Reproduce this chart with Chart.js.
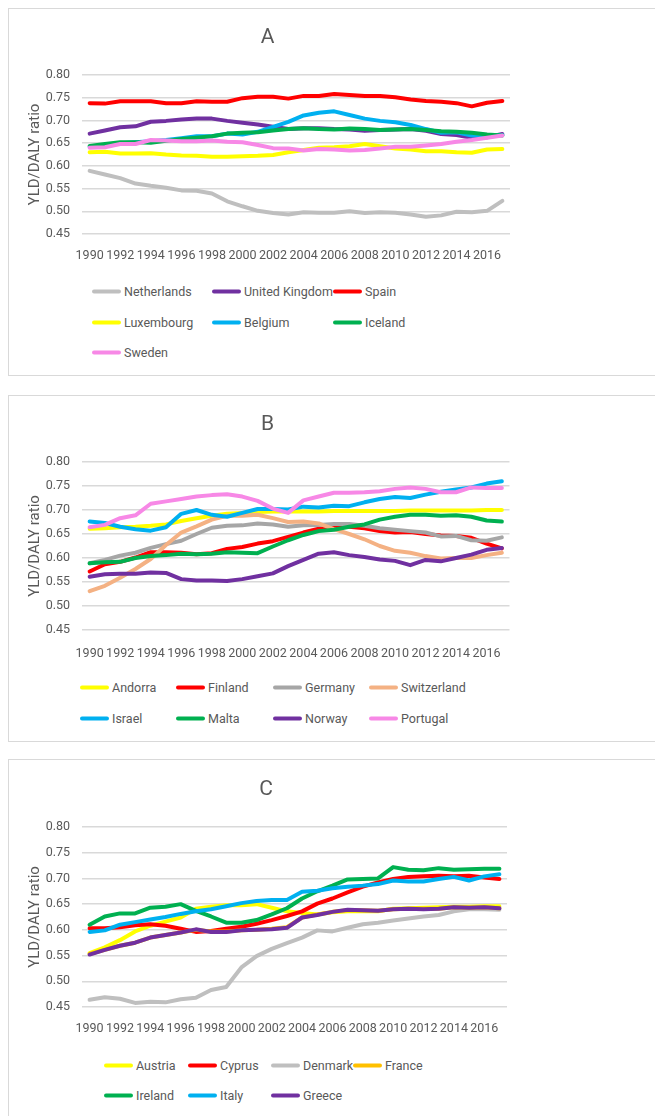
<!DOCTYPE html>
<html>
<head>
<meta charset="utf-8">
<script src="https://cdn.jsdelivr.net/npm/chart.js@4.4.0/dist/chart.umd.min.js"></script>
<style>
  body { margin: 0; background: #fff; width: 655px; height: 1116px; overflow: hidden; position: relative; font-family: Roboto, sans-serif; }
  .panel { position: absolute; left: 8px; width: 680px; border: 1.5px solid #d9d9d9; box-sizing: border-box; }
  .wrap { position: absolute; left: 9px; }
  .leg { position: absolute; display: flex; align-items: center; font-size: 12.5px; color: #595959; white-space: nowrap; transform: translateY(-50%); }
  .leg i { display: inline-block; width: 29px; height: 4px; border-radius: 2px; margin-right: 3px; }
</style>
</head>
<body>
<div class="panel" style="top:8px;height:368px"></div>
<div class="panel" style="top:395px;height:347px"></div>
<div class="panel" style="top:759px;height:380px"></div>

<div class="wrap" style="top:9px"><canvas id="chartA" width="509" height="265"></canvas></div>
<div class="wrap" style="top:396px"><canvas id="chartB" width="509" height="274"></canvas></div>
<div class="wrap" style="top:760px"><canvas id="chartC" width="506" height="287"></canvas></div>
<div id="legends"></div>

<script>
const years = [1990, 1991, 1992, 1993, 1994, 1995, 1996, 1997, 1998, 1999, 2000, 2001, 2002, 2003,
  2004, 2005, 2006, 2007, 2008, 2009, 2010, 2011, 2012, 2013, 2014, 2015, 2016, 2017];
const xTickLabels = ['1990', '', '1992', '', '1994', '', '1996', '', '1998', '', '2000', '', '2002', '',
  '2004', '', '2006', '', '2008', '', '2010', '', '2012', '', '2014', '', '2016', ''];
const yTicks = [0.45, 0.50, 0.55, 0.60, 0.65, 0.70, 0.75, 0.80];

// panel A
const namesA = ['Netherlands', 'United Kingdom', 'Spain', 'Luxembourg', 'Belgium', 'Iceland', 'Sweden'];
const coloursA = ['#BFBFBF', '#7030A0', '#FF0000', '#FFFF00', '#00B0F0', '#00B050', '#F788E6'];
const netherlands = [0.589, 0.581, 0.573, 0.561, 0.556, 0.552, 0.546, 0.545, 0.539, 0.522, 0.511, 0.501, 0.496, 0.493,
  0.498, 0.497, 0.497, 0.500, 0.496, 0.498, 0.497, 0.493, 0.488, 0.491, 0.499, 0.498, 0.501, 0.523];
const unitedKingdom = [0.671, 0.678, 0.685, 0.687, 0.697, 0.699, 0.702, 0.704, 0.704, 0.699, 0.695, 0.691, 0.686, 0.681,
  0.683, 0.683, 0.681, 0.680, 0.677, 0.679, 0.680, 0.681, 0.677, 0.670, 0.668, 0.662, 0.663, 0.670];
const spain = [0.738, 0.737, 0.742, 0.742, 0.742, 0.738, 0.738, 0.742, 0.741, 0.741, 0.749, 0.752, 0.752, 0.748,
  0.754, 0.754, 0.758, 0.756, 0.754, 0.754, 0.751, 0.746, 0.743, 0.741, 0.738, 0.731, 0.739, 0.743];
const luxembourg = [0.630, 0.631, 0.627, 0.627, 0.628, 0.625, 0.623, 0.622, 0.620, 0.620, 0.621, 0.622, 0.624, 0.630,
  0.635, 0.640, 0.641, 0.643, 0.648, 0.643, 0.638, 0.636, 0.632, 0.632, 0.630, 0.629, 0.636, 0.637];
const belgium = [0.642, 0.646, 0.650, 0.652, 0.654, 0.657, 0.661, 0.665, 0.665, 0.671, 0.669, 0.675, 0.686, 0.697,
  0.711, 0.717, 0.720, 0.712, 0.704, 0.699, 0.696, 0.690, 0.681, 0.673, 0.674, 0.667, 0.668, 0.668];
const iceland = [0.644, 0.648, 0.652, 0.652, 0.651, 0.655, 0.659, 0.662, 0.665, 0.671, 0.673, 0.674, 0.678, 0.681,
  0.683, 0.681, 0.680, 0.682, 0.681, 0.679, 0.680, 0.681, 0.679, 0.676, 0.675, 0.673, 0.669, 0.667];
const sweden = [0.640, 0.641, 0.648, 0.648, 0.657, 0.656, 0.654, 0.654, 0.656, 0.653, 0.652, 0.646, 0.639, 0.638,
  0.634, 0.637, 0.636, 0.634, 0.635, 0.638, 0.642, 0.642, 0.645, 0.648, 0.653, 0.657, 0.662, 0.667];

// panel B
const namesB = ['Andorra', 'Finland', 'Germany', 'Switzerland', 'Israel', 'Malta', 'Norway', 'Portugal'];
const coloursB = ['#FFFF00', '#FF0000', '#A6A6A6', '#F4B183', '#00B0F0', '#00B050', '#7030A0', '#F788E6'];
const andorra = [0.661, 0.662, 0.664, 0.665, 0.667, 0.670, 0.677, 0.683, 0.688, 0.692, 0.694, 0.696, 0.697, 0.697,
  0.697, 0.697, 0.698, 0.698, 0.698, 0.698, 0.698, 0.699, 0.699, 0.699, 0.699, 0.699, 0.700, 0.700];
const finland = [0.572, 0.587, 0.592, 0.601, 0.612, 0.612, 0.611, 0.608, 0.610, 0.619, 0.623, 0.630, 0.635, 0.644,
  0.653, 0.661, 0.665, 0.665, 0.662, 0.656, 0.653, 0.654, 0.650, 0.647, 0.646, 0.642, 0.630, 0.620];
const germany = [0.589, 0.596, 0.605, 0.611, 0.621, 0.629, 0.636, 0.650, 0.663, 0.667, 0.668, 0.672, 0.670, 0.665,
  0.668, 0.669, 0.671, 0.671, 0.667, 0.662, 0.659, 0.656, 0.653, 0.645, 0.646, 0.637, 0.636, 0.643];
const switzerland = [0.531, 0.542, 0.559, 0.577, 0.598, 0.627, 0.653, 0.666, 0.680, 0.688, 0.688, 0.690, 0.683, 0.675,
  0.676, 0.672, 0.660, 0.650, 0.639, 0.625, 0.615, 0.611, 0.604, 0.599, 0.600, 0.600, 0.606, 0.611];
const israel = [0.676, 0.673, 0.665, 0.660, 0.657, 0.664, 0.692, 0.700, 0.690, 0.686, 0.694, 0.702, 0.702, 0.701,
  0.707, 0.705, 0.709, 0.708, 0.716, 0.723, 0.727, 0.725, 0.732, 0.738, 0.743, 0.747, 0.755, 0.760];
const malta = [0.589, 0.591, 0.592, 0.600, 0.604, 0.606, 0.609, 0.608, 0.609, 0.612, 0.611, 0.610, 0.624, 0.637,
  0.648, 0.656, 0.659, 0.665, 0.670, 0.680, 0.686, 0.690, 0.690, 0.688, 0.689, 0.686, 0.678, 0.676];
const norway = [0.561, 0.566, 0.567, 0.567, 0.570, 0.569, 0.556, 0.553, 0.553, 0.552, 0.556, 0.562, 0.568, 0.583,
  0.596, 0.609, 0.612, 0.606, 0.602, 0.597, 0.594, 0.585, 0.596, 0.593, 0.600, 0.607, 0.617, 0.621];
const portugal = [0.664, 0.669, 0.683, 0.689, 0.713, 0.718, 0.723, 0.728, 0.731, 0.733, 0.728, 0.719, 0.703, 0.694,
  0.720, 0.728, 0.736, 0.736, 0.737, 0.739, 0.744, 0.747, 0.744, 0.737, 0.737, 0.747, 0.746, 0.746];

// panel C
const namesC = ['Austria', 'Cyprus', 'Denmark', 'France', 'Ireland', 'Italy', 'Greece'];
const coloursC = ['#FFFF00', '#FF0000', '#BFBFBF', '#FFC000', '#00B050', '#00B0F0', '#7030A0'];
const austria = [0.555, 0.566, 0.580, 0.597, 0.608, 0.616, 0.624, 0.641, 0.645, 0.648, 0.648, 0.650, 0.643, 0.636,
  0.633, 0.630, 0.634, 0.636, 0.636, 0.636, 0.641, 0.642, 0.643, 0.644, 0.645, 0.645, 0.646, 0.646];
const cyprus = [0.603, 0.603, 0.605, 0.609, 0.611, 0.608, 0.602, 0.596, 0.598, 0.602, 0.606, 0.612, 0.619, 0.627,
  0.636, 0.651, 0.661, 0.673, 0.684, 0.692, 0.699, 0.703, 0.704, 0.705, 0.704, 0.705, 0.702, 0.699];
const denmark = [0.464, 0.469, 0.466, 0.458, 0.460, 0.459, 0.465, 0.468, 0.483, 0.489, 0.527, 0.549, 0.563, 0.574,
  0.585, 0.599, 0.597, 0.604, 0.611, 0.614, 0.618, 0.622, 0.626, 0.629, 0.636, 0.640, 0.640, 0.639];
const france = [0.553, 0.561, 0.569, 0.575, 0.585, 0.590, 0.595, 0.600, 0.597, 0.597, 0.599, 0.600, 0.602, 0.605,
  0.624, 0.630, 0.635, 0.638, 0.638, 0.637, 0.640, 0.641, 0.641, 0.641, 0.644, 0.643, 0.644, 0.642];
const ireland = [0.610, 0.626, 0.632, 0.632, 0.643, 0.645, 0.650, 0.637, 0.626, 0.614, 0.614, 0.619, 0.630, 0.642,
  0.661, 0.675, 0.686, 0.698, 0.699, 0.700, 0.722, 0.717, 0.716, 0.720, 0.717, 0.718, 0.719, 0.719];
const italy = [0.596, 0.599, 0.610, 0.615, 0.620, 0.625, 0.631, 0.636, 0.640, 0.646, 0.652, 0.656, 0.658, 0.658,
  0.674, 0.676, 0.681, 0.684, 0.686, 0.689, 0.696, 0.694, 0.694, 0.699, 0.703, 0.696, 0.704, 0.708];
const greece = [0.552, 0.561, 0.569, 0.575, 0.585, 0.590, 0.595, 0.601, 0.596, 0.596, 0.599, 0.600, 0.601, 0.604,
  0.624, 0.629, 0.635, 0.639, 0.638, 0.637, 0.640, 0.641, 0.640, 0.641, 0.644, 0.643, 0.644, 0.642];

const textColour = '#595959';
const gridColour = '#D9D9D9';

function drawPanel(id, title, names, series, colours, g) {
  const n = series.length;
  new Chart(document.getElementById(id), {
    type: 'line',
    data: {
      labels: years,
      datasets: series.map((d, i) => ({
        label: names[i],
        data: d,
        borderColor: colours[i],
        backgroundColor: colours[i],
        borderWidth: 4,
        pointRadius: 0,
        tension: 0,
        fill: false,
        borderJoinStyle: 'round',
        borderCapStyle: 'round',
        order: n - i   // later series on top, like the original
      }))
    },
    options: {
      responsive: false,
      animation: false,
      // left padding pushes the centred title to the right, as in the original
      layout: { padding: { left: 16, right: 8, top: 0, bottom: 0 } },
      plugins: {
        legend: { display: false },
        tooltip: { enabled: false },
        title: {
          display: true,
          text: title,
          color: textColour,
          font: { family: 'Roboto', size: 21, weight: 'normal' },
          padding: { top: g.titleY - 12.6, bottom: g.plotTop - g.titleY - 12.6 }
        }
      },
      scales: {
        x: {
          offset: true,
          grid: { display: false, drawTicks: false },
          border: { display: false },
          ticks: {
            autoSkip: false, maxRotation: 0, minRotation: 0,
            padding: g.xPad,
            color: textColour,
            font: { family: 'Roboto', size: 12.5 },
            callback: (v, i) => xTickLabels[i]
          },
          afterFit: s => { s.height = 40; }
        },
        y: {
          min: 0.45,
          max: 0.80,
          afterBuildTicks: s => { s.ticks = yTicks.map(v => ({ value: v })); },
          grid: { color: gridColour, lineWidth: 1.5, drawTicks: false },
          border: { display: false },
          ticks: {
            padding: 12,
            color: textColour,
            font: { family: 'Roboto', size: 12.5 },
            callback: v => Number(v).toFixed(2)
          },
          title: {
            display: true,
            text: 'YLD/DALY ratio',
            color: textColour,
            font: { family: 'Roboto', size: 15 },
            padding: { top: 1, bottom: 0 }
          },
          afterFit: s => { s.width = 57; }
        }
      }
    }
  });
}

// html legend in the Excel grid layout
function drawLegend(names, colours, cols, rows) {
  const box = document.getElementById('legends');
  names.forEach((name, i) => {
    const el = document.createElement('div');
    el.className = 'leg';
    el.style.left = cols[i % cols.length] + 'px';
    el.style.top = rows[Math.floor(i / cols.length)] + 'px';
    el.innerHTML = '<i style="background:' + colours[i] + '"></i>' + name;
    box.appendChild(el);
  });
}

drawPanel('chartA', 'A', namesA,
  [netherlands, unitedKingdom, spain, luxembourg, belgium, iceland, sweden], coloursA,
  { titleY: 29, plotTop: 66, xPad: 14 });
drawPanel('chartB', 'B', namesB,
  [andorra, finland, germany, switzerland, israel, malta, norway, portugal], coloursB,
  { titleY: 29, plotTop: 66, xPad: 16 });
drawPanel('chartC', 'C', namesC,
  [austria, cyprus, denmark, france, ireland, italy, greece], coloursC,
  { titleY: 30, plotTop: 67, xPad: 14 });

drawLegend(namesA, coloursA, [92, 212, 333], [291, 322, 352]);
drawLegend(namesB, coloursB, [80, 176, 273, 369], [687, 718]);
drawLegend(namesC, coloursC, [104, 188, 271, 353], [1065, 1095]);
</script>
</body>
</html>
